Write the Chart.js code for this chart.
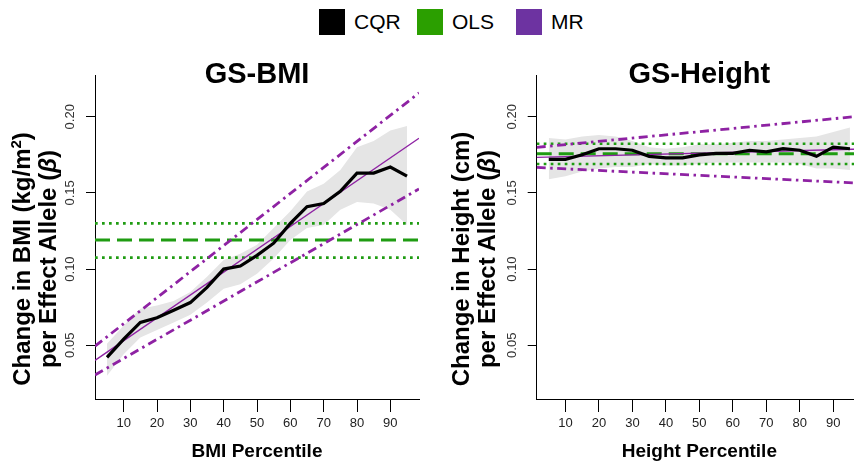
<!DOCTYPE html>
<html>
<head>
<meta charset="utf-8">
<script src="https://cdn.jsdelivr.net/npm/chart.js@4"></script>
<style>
  html, body { margin: 0; padding: 0; width: 854px; height: 466px; overflow: hidden; background: #fff; }
  body { position: relative; font-family: "Liberation Sans", Arial, Helvetica, sans-serif; }
  .panel { position: absolute; top: 0; height: 466px; }
  #panelBMI { left: 0; width: 440px; }
  #panelHt { left: 440px; width: 430px; }
  .legend-item { position: absolute; top: 9px; height: 26px; display: flex; align-items: center; font-size: 21px; color: #000; }
  .legend-item .box { width: 26px; height: 26px; margin-right: 9px; }
  .ytitle { position: absolute; top: 233px; width: 320px; height: 52px; line-height: 26px; text-align: center;
            font-weight: bold; font-size: 24px; color: #000; transform: rotate(-90deg); white-space: nowrap; }
</style>
</head>
<body>
<div class="legend-item" style="left:319px"><span class="box" style="background:#000"></span>CQR</div>
<div class="legend-item" style="left:417px"><span class="box" style="background:#2b9f00"></span>OLS</div>
<div class="legend-item" style="left:516px"><span class="box" style="background:#6d33a1"></span>MR</div>

<div class="panel" id="panelBMI"><canvas id="chartBMI"></canvas></div>
<div class="panel" id="panelHt"><canvas id="chartHt"></canvas></div>

<div class="ytitle" style="left:-125px">Change in BMI (kg/m<sup style="font-size:15px;line-height:0">2</sup>)<br>per Effect Allele (<i>β</i>)</div>
<div class="ytitle" style="left:314px">Change in Height (cm)<br>per Effect Allele (<i>β</i>)</div>

<script>
// percentiles of the CQR estimates
const percentiles = [5, 10, 15, 20, 25, 30, 35, 40, 45, 50, 55, 60, 65, 70, 75, 80, 85, 90, 95];
const xTicks = [10, 20, 30, 40, 50, 60, 70, 80, 90];
const yTicks = [0.05, 0.10, 0.15, 0.20];
const xRange = [1.4, 98.6];
const yRange = [0.0147, 0.2274];

// GS-BMI
const bmiCqr  = [0.042, 0.054, 0.065, 0.068, 0.073, 0.078, 0.088, 0.100, 0.102, 0.109, 0.117, 0.130, 0.141, 0.143, 0.151, 0.163, 0.163, 0.167, 0.161];
const bmiHigh = [0.051, 0.063, 0.074, 0.076, 0.079, 0.085, 0.095, 0.106, 0.110, 0.116, 0.127, 0.138, 0.151, 0.156, 0.165, 0.180, 0.184, 0.191, 0.194];
const bmiLow  = [0.030, 0.044, 0.055, 0.060, 0.065, 0.070, 0.078, 0.087, 0.090, 0.097, 0.107, 0.119, 0.127, 0.129, 0.139, 0.144, 0.143, 0.139, 0.129];
const bmiOls = [0.119, 0.1075, 0.130];       // estimate, lower, upper
const mrX = [1.4, 98.6];                     // MR fit evaluated at the plot edges
const bmiMr     = [0.0401, 0.1859];
const bmiMrLow  = [0.0305, 0.1526];
const bmiMrHigh = [0.0494, 0.2156];

// GS-Height
const htCqr  = [0.172, 0.172, 0.175, 0.179, 0.179, 0.178, 0.174, 0.173, 0.173, 0.175, 0.176, 0.176, 0.178, 0.177, 0.179, 0.178, 0.174, 0.180, 0.179];
const htHigh = [0.186, 0.185, 0.187, 0.188, 0.187, 0.184, 0.180, 0.179, 0.180, 0.182, 0.182, 0.183, 0.184, 0.184, 0.185, 0.186, 0.187, 0.190, 0.193];
const htLow  = [0.159, 0.161, 0.164, 0.166, 0.167, 0.167, 0.169, 0.168, 0.168, 0.169, 0.170, 0.170, 0.170, 0.170, 0.170, 0.169, 0.166, 0.166, 0.165];
const htOls = [0.1757, 0.169, 0.1823];
const htMr     = [0.1733, 0.1788];
const htMrLow  = [0.1667, 0.1563];
const htMrHigh = [0.1799, 0.2005];

const FONT = "'Liberation Sans', Arial, Helvetica, sans-serif";
const green = '#1f9c12';
const purple = '#8e22a3';
const band = '#e5e5e5';

Chart.defaults.font.family = FONT;

function pts(xs, ys) {
    return xs.map((x, i) => ({ x: x, y: ys[i] }));
}

function flat(v) {
    return xRange.map(x => ({ x: x, y: v }));
}

function plotarPainel(id, titulo, xTitulo, d, pad) {
    const ctx = document.getElementById(id);
    new Chart(ctx, {
        type: 'line',
        data: {
            datasets: [
                { label: 'CQR', data: pts(percentiles, d.cqr), borderColor: '#000', borderWidth: 3.2 },
                { label: 'MR', data: pts(mrX, d.mr), borderColor: purple, borderWidth: 1.4 },
                { label: 'MR upper', data: pts(mrX, d.mrHigh), borderColor: purple, borderWidth: 2.8, borderDash: [9, 4.5, 2.5, 4.5] },
                { label: 'MR lower', data: pts(mrX, d.mrLow), borderColor: purple, borderWidth: 2.8, borderDash: [9, 4.5, 2.5, 4.5] },
                { label: 'OLS', data: flat(d.ols[0]), borderColor: green, borderWidth: 3, borderDash: [15, 7] },
                { label: 'OLS lower', data: flat(d.ols[1]), borderColor: green, borderWidth: 2.6, borderDash: [2.7, 4.3] },
                { label: 'OLS upper', data: flat(d.ols[2]), borderColor: green, borderWidth: 2.6, borderDash: [2.7, 4.3] },
                { label: 'CQR upper', data: pts(percentiles, d.high), borderWidth: 0, borderColor: band, backgroundColor: band, fill: '+1' },
                { label: 'CQR lower', data: pts(percentiles, d.low), borderWidth: 0, borderColor: band }
            ]
        },
        options: {
            responsive: true,
            maintainAspectRatio: false,
            animation: false,
            events: [],
            layout: { padding: { left: pad.left, right: pad.right, top: 0, bottom: 0 } },
            elements: {
                point: { radius: 0 },
                line: { tension: 0, borderCapStyle: 'butt', fill: false }
            },
            plugins: {
                legend: { display: false },
                tooltip: { enabled: false },
                title: {
                    display: true,
                    text: titulo,
                    fullSize: false,
                    color: '#000',
                    font: { size: 29, weight: 'bold', lineHeight: 1 },
                    padding: { top: 60, bottom: -14 }
                }
            },
            scales: {
                x: {
                    type: 'linear',
                    min: xRange[0],
                    max: xRange[1],
                    afterBuildTicks: s => { s.ticks = xTicks.map(v => ({ value: v })); },
                    afterFit: s => { s.height = 67; },
                    grid: { drawOnChartArea: false, drawTicks: true, tickLength: 13, color: '#000', lineWidth: 1 },
                    border: { display: true, color: '#000', width: 1 },
                    ticks: { color: '#222', font: { size: 13 }, padding: 4, maxRotation: 0 },
                    title: {
                        display: true,
                        text: xTitulo,
                        color: '#000',
                        font: { size: 19, weight: 'bold', lineHeight: 1.2 },
                        padding: { top: 0, bottom: 3 }
                    }
                },
                y: {
                    type: 'linear',
                    min: yRange[0],
                    max: yRange[1],
                    afterBuildTicks: s => { s.ticks = yTicks.map(v => ({ value: v })); },
                    afterFit: s => { s.width = 34; },
                    grid: { drawOnChartArea: false, drawTicks: true, tickLength: 9, color: '#000', lineWidth: 1 },
                    border: { display: true, color: '#000', width: 1 },
                    ticks: {
                        color: '#333',
                        font: { size: 13 },
                        padding: 3,
                        minRotation: 90,
                        maxRotation: 90,
                        crossAlign: 'center',
                        callback: v => Number(v).toFixed(2)
                    }
                }
            }
        }
    });
}

plotarPainel('chartBMI', 'GS-BMI', 'BMI Percentile',
    { cqr: bmiCqr, high: bmiHigh, low: bmiLow, ols: bmiOls, mr: bmiMr, mrLow: bmiMrLow, mrHigh: bmiMrHigh },
    { left: 61, right: 21 });

plotarPainel('chartHt', 'GS-Height', 'Height Percentile',
    { cqr: htCqr, high: htHigh, low: htLow, ols: htOls, mr: htMr, mrLow: htMrLow, mrHigh: htMrHigh },
    { left: 62.7, right: 8 });
</script>
</body>
</html>
